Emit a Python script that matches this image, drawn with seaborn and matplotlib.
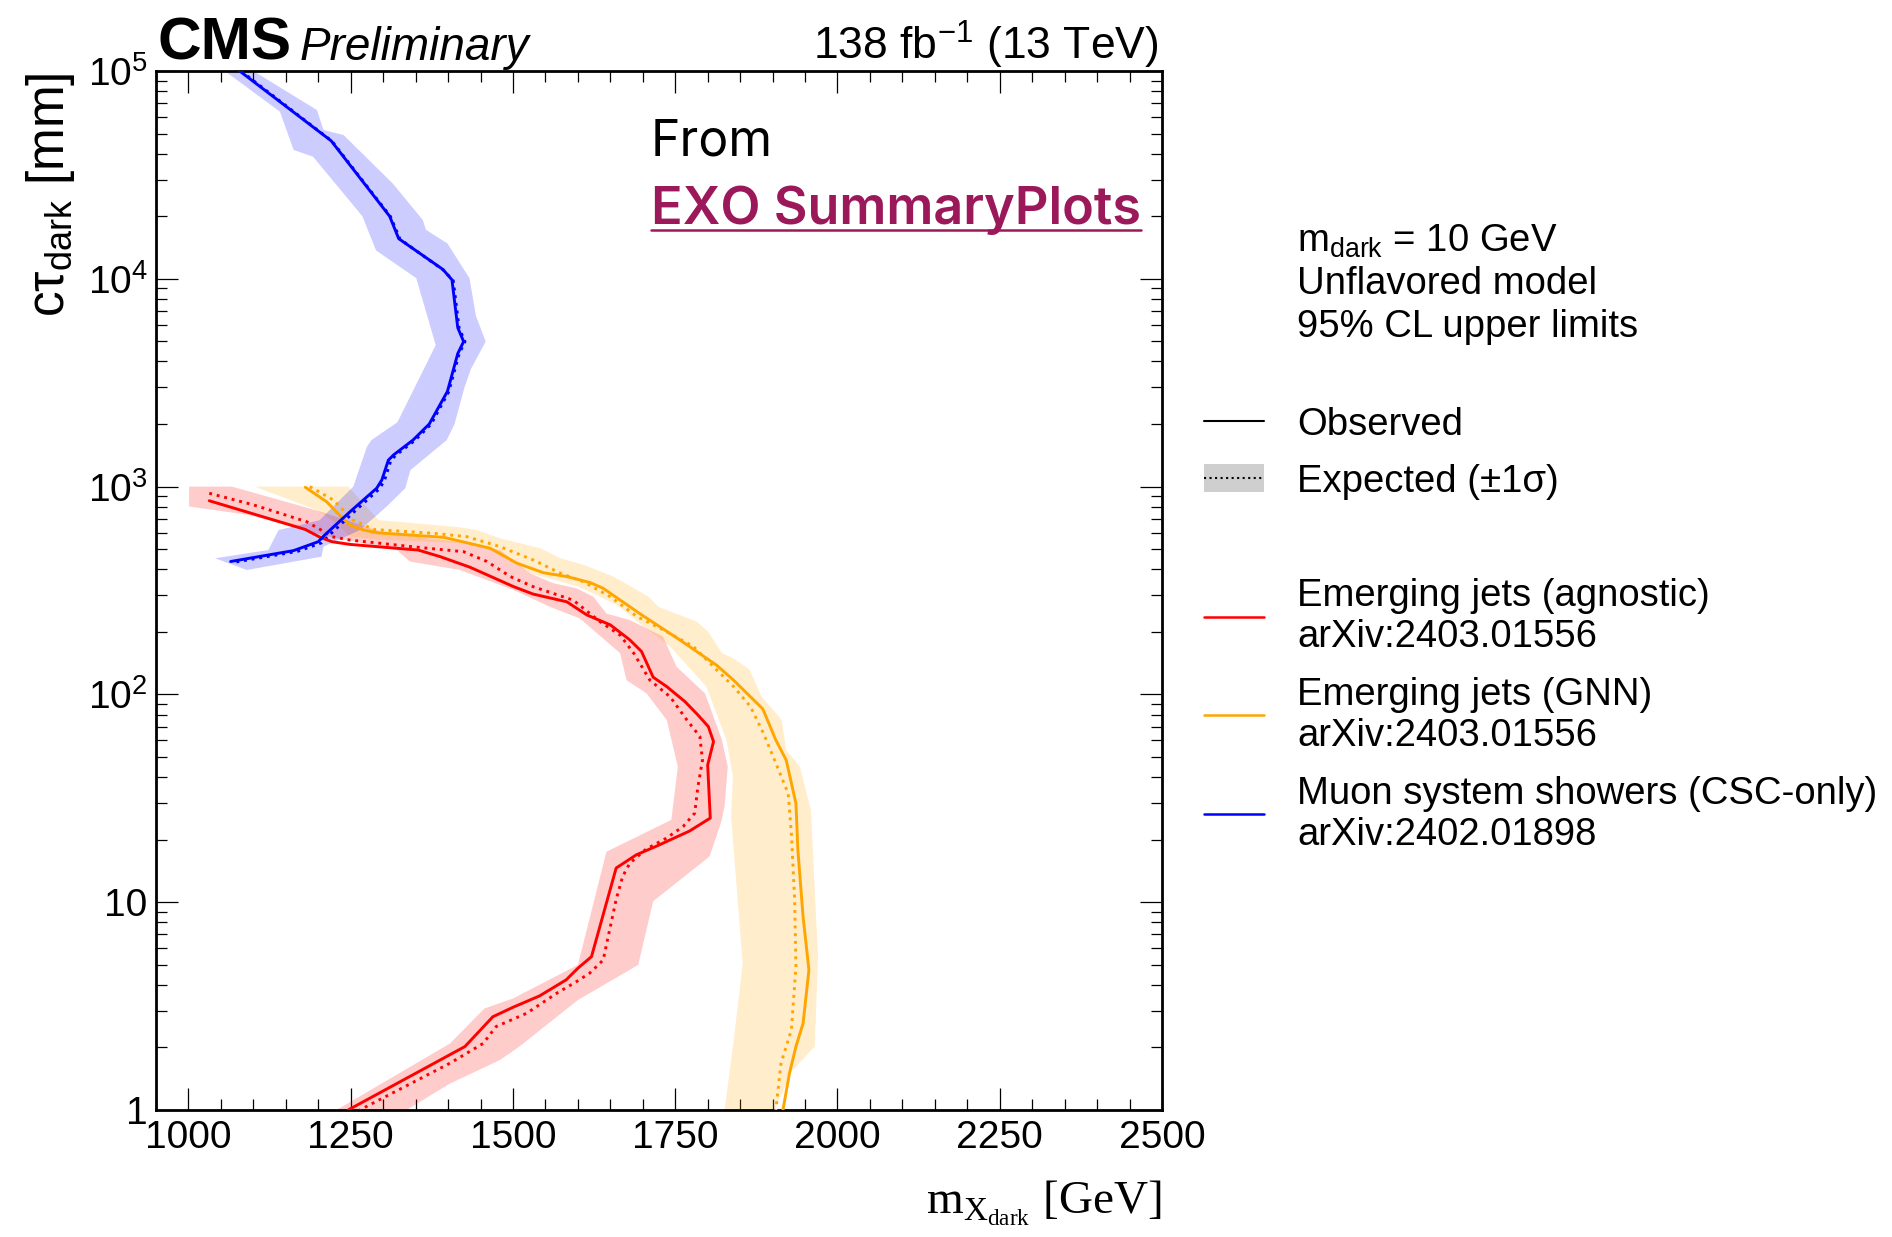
import numpy as np
import matplotlib
matplotlib.use("Agg")
import matplotlib.pyplot as plt
import seaborn as sns
from matplotlib.lines import Line2D
from matplotlib.patches import Rectangle
from matplotlib.ticker import LogLocator, MultipleLocator, NullFormatter

# ---------------- data (m_X_dark [GeV], c tau_dark [mm]) ----------------
# Muon system showers (CSC-only)
blue_obs_m = [1070, 1220, 1310, 1324, 1392, 1406, 1415, 1424, 1415, 1399, 1371, 1346, 1316, 1308,
              1298, 1290, 1249, 1210, 1200, 1162, 1065]
blue_obs_ct = [105000, 46100, 20000, 15600, 11100, 9890, 5810, 4990, 4370, 2870, 2000, 1675, 1420, 1340,
               1076, 982, 757, 585, 543, 492, 436]
blue_exp_m = [1072, 1221, 1311, 1326, 1393, 1408, 1417, 1426, 1417, 1401, 1374, 1349, 1320, 1312,
              1302, 1294, 1254, 1216, 1205, 1168, 1070]
blue_exp_ct = [105000, 46000, 20000, 15500, 11000, 9800, 5800, 4980, 4350, 2860, 2000, 1670, 1420, 1340,
               1070, 975, 750, 580, 536, 488, 432]
blue_hi_m = [1100, 1198, 1208, 1239, 1315, 1361, 1366, 1399, 1433, 1443, 1458, 1435, 1425, 1410,
             1398, 1342, 1334, 1305, 1264, 1208, 1205, 1090, 1041]
blue_hi_ct = [100000, 64900, 52000, 49200, 28700, 19200, 17200, 14800, 10070, 6620, 4990, 3670, 2980, 2000,
              1675, 1200, 982, 800, 617, 514, 460, 397, 452]
blue_lo_m = [1056, 1141, 1162, 1192, 1268, 1289, 1351, 1381, 1322, 1282, 1275, 1254, 1202, 1139, 1123, 1041]
blue_lo_ct = [100000, 63700, 41700, 38700, 20000, 13700, 10070, 4800, 2040, 1675, 1556, 1000, 689, 618, 495, 452]

# Emerging jets (agnostic)
red_obs_m = [1032, 1180, 1203, 1221, 1249, 1354, 1388, 1434, 1501, 1531, 1583, 1614, 1650, 1680, 1698,
             1716, 1737, 1765, 1785, 1801, 1809, 1800, 1804, 1772, 1721, 1690, 1659, 1621, 1600, 1582,
             1541, 1500, 1469, 1426, 1246]
red_obs_ct = [855, 622, 570, 543, 527, 495, 460, 409, 330, 304, 279, 241, 216, 183, 161,
              121, 109, 92.3, 79.6, 70.0, 59.3, 45.7, 25.4, 22.0, 18.6, 16.9, 14.6, 5.47, 4.81, 4.23,
              3.54, 3.12, 2.81, 2.02, 1.0]
red_exp_m = [1032, 1100, 1182, 1203, 1221, 1249, 1352, 1424, 1460, 1496, 1531, 1593, 1634, 1665, 1686,
             1711, 1742, 1768, 1788, 1792, 1785, 1780, 1762, 1736, 1705, 1680, 1669, 1659, 1639, 1618,
             1598, 1567, 1521, 1474, 1454, 1403, 1264]
red_exp_ct = [929, 817, 678, 622, 574, 553, 511, 486, 436, 369, 330, 284, 224, 193, 158,
              117, 97.5, 75.3, 62.7, 48.3, 36.0, 26.8, 23.1, 20.3, 18.0, 15.4, 13.3, 10.3, 5.27, 4.55,
              4.15, 3.64, 2.92, 2.52, 2.09, 1.68, 1.0]
red_hi_m = [1001, 1067, 1167, 1203, 1300, 1400, 1480, 1526, 1562, 1598, 1624, 1644, 1680, 1731, 1752,
            1796, 1809, 1822, 1831, 1826, 1821, 1803, 1716, 1693, 1600, 1510, 1480, 1403, 1336]
red_hi_ct = [1000, 1000, 817, 759, 603, 550, 495, 383, 343, 324, 295, 245, 228, 190, 136,
             101, 78.2, 60.4, 44.9, 28.8, 24.4, 16.6, 10.1, 4.99, 3.38, 2.02, 1.74, 1.34, 1.0]
red_lo_m = [1001, 1095, 1215, 1321, 1341, 1418, 1501, 1557, 1603, 1665, 1675, 1706, 1737, 1754, 1744,
            1644, 1600, 1500, 1456, 1403, 1228]
red_lo_ct = [802, 729, 575, 495, 436, 397, 318, 264, 232, 158, 117, 101, 75.3, 44.9, 24.9,
             17.5, 4.99, 3.44, 3.08, 2.09, 1.0]

# Emerging jets (GNN)
orange_obs_m = [1180, 1213, 1236, 1249, 1270, 1290, 1393, 1465, 1506, 1547, 1583, 1619, 1639, 1696,
                1757, 1814, 1840, 1885, 1905, 1921, 1936, 1939, 1947, 1956, 1947, 1936, 1926, 1916]
orange_obs_ct = [993, 845, 711, 653, 618, 600, 570, 505, 428, 385, 369, 345, 324, 244,
                 183, 138, 117, 85.1, 60.3, 48.3, 29.9, 17.8, 8.51, 4.72, 2.61, 2.02, 1.50, 1.0]
orange_exp_m = [1187, 1223, 1254, 1285, 1377, 1429, 1480, 1531, 1573, 1609, 1650, 1691, 1732, 1778,
                1814, 1840, 1866, 1886, 1903, 1924, 1929, 1934, 1936, 1929, 1913, 1905]
orange_exp_ct = [1000, 863, 690, 622, 596, 574, 514, 444, 383, 348, 295, 237, 204, 170,
                 131, 109, 87.3, 65.0, 48.3, 33.4, 21.4, 10.3, 4.90, 2.43, 1.68, 1.0]
orange_hi_m = [1246, 1293, 1418, 1444, 1480, 1542, 1573, 1609, 1655, 1709, 1724, 1783, 1801, 1822,
               1840, 1865, 1883, 1914, 1921, 1942, 1959, 1970, 1965, 1931, 1903]
orange_hi_ct = [1000, 690, 637, 618, 564, 505, 452, 420, 369, 295, 264, 224, 200, 158,
                149, 131, 97.5, 75.3, 54.0, 44.9, 27.8, 5.47, 2.02, 1.56, 1.0]
orange_lo_m = [1102, 1198, 1230, 1249, 1290, 1429, 1480, 1526, 1600, 1624, 1660, 1700, 1742, 1798,
               1829, 1839, 1836, 1854, 1839, 1826]
orange_lo_ct = [1000, 771, 661, 574, 556, 533, 479, 383, 331, 306, 269, 214, 170, 109,
                60.4, 40.2, 25.8, 5.08, 2.02, 1.0]

x_ticks = [1000, 1250, 1500, 1750, 2000, 2250, 2500]
y_ticks = [1, 10, 100, 1000, 10000, 100000]
y_tick_labels = ["1", "10", r"$\mathregular{10^{2}}$", r"$\mathregular{10^{3}}$",
                 r"$\mathregular{10^{4}}$", r"$\mathregular{10^{5}}$"]

info_lines = [r"m$_{\mathregular{dark}}$ = 10 GeV", "Unflavored model", "95% CL upper limits"]
analysis_names = ["Emerging jets (agnostic)", "Emerging jets (GNN)", "Muon system showers (CSC-only)"]
analysis_refs = ["arXiv:2403.01556", "arXiv:2403.01556", "arXiv:2402.01898"]

RED, ORANGE, BLUE = "#ff0000", "#ffa500", "#0000ff"

# ---------------- style ----------------
sns.set_style("ticks")
plt.rcParams["font.family"] = ["Liberation Sans", "DejaVu Sans"]
plt.rcParams["mathtext.fontset"] = "custom"
plt.rcParams["mathtext.rm"] = "Liberation Sans"
plt.rcParams["mathtext.it"] = "Liberation Sans:italic"
plt.rcParams["mathtext.bf"] = "Liberation Sans:bold"
plt.rcParams["mathtext.sf"] = "Liberation Serif"
for k in ["text.color", "axes.labelcolor", "xtick.color", "ytick.color", "axes.edgecolor"]:
    plt.rcParams[k] = "black"

fig = plt.figure(figsize=(18.92, 12.37), dpi=100)
ax = fig.add_axes([0.08245, 0.10267, 0.53171, 0.83993])

# bands
for hm, hc, lm, lc, col in [
    (red_hi_m, red_hi_ct, red_lo_m, red_lo_ct, RED),
    (orange_hi_m, orange_hi_ct, orange_lo_m, orange_lo_ct, ORANGE),
    (blue_hi_m, blue_hi_ct, blue_lo_m, blue_lo_ct, BLUE),
]:
    ax.fill(list(hm) + list(lm)[::-1], list(hc) + list(lc)[::-1], color=col, alpha=0.2, lw=0, zorder=1)

LW = 2.1
for m, c, col in [(red_exp_m, red_exp_ct, RED), (orange_exp_m, orange_exp_ct, ORANGE),
                  (blue_exp_m, blue_exp_ct, BLUE)]:
    sns.lineplot(x=m, y=c, sort=False, estimator=None, color=col, lw=LW, ls=":", ax=ax, zorder=3)
for m, c, col in [(red_obs_m, red_obs_ct, RED), (orange_obs_m, orange_obs_ct, ORANGE),
                  (blue_obs_m, blue_obs_ct, BLUE)]:
    sns.lineplot(x=m, y=c, sort=False, estimator=None, color=col, lw=LW, ax=ax, zorder=4)

ax.set_yscale("log")
ax.set_xlim(950, 2500)
ax.set_ylim(1, 1e5)
ax.set_xticks(x_ticks)
ax.set_xticklabels([str(v) for v in x_ticks])
ax.xaxis.set_minor_locator(MultipleLocator(50))
ax.set_yticks(y_ticks)
ax.set_yticklabels(y_tick_labels)
ax.yaxis.set_minor_locator(LogLocator(base=10, subs=np.arange(2, 10), numticks=30))
ax.yaxis.set_minor_formatter(NullFormatter())
ax.set_xlabel("")
ax.set_ylabel("")
ax.tick_params(which="both", direction="in", top=True, right=True, labelsize=28, width=0.9,
               colors="black")
ax.tick_params(which="major", length=16)
ax.tick_params(which="minor", length=8)
ax.tick_params(axis="x", pad=7)
ax.tick_params(axis="y", pad=6)
for s in ax.spines.values():
    s.set_linewidth(2.0)
    s.set_visible(True)
    s.set_color("black")

# ---------------- texts ----------------
fig.text(0.0830, 0.9515, "CMS", fontsize=43.5, fontweight="bold", ha="left", va="baseline")
fig.text(0.1581, 0.9515, "Preliminary", fontsize=33, style="italic", ha="left", va="baseline")
fig.text(0.6121, 0.9515, r"138 fb$^{\mathregular{-1}}$ (13 TeV)", fontsize=32, ha="right", va="baseline")

fig.text(0.0265, 0.9418, r"c$\mathregular{\tau}_{\mathregular{dark}}$ [mm]", rotation=90,
         ha="center", va="top", fontsize=37)
fig.text(0.6142, 0.0194, r"$\mathsf{m}_{\mathsf{X}_{\mathsf{dark}}}$ [GeV]", family="Liberation Serif",
         fontsize=34, ha="right", va="baseline")

fig.text(0.3441, 0.8856, "From", family=["Inter", "DejaVu Sans"], fontsize=36, ha="left", va="center")
exo = fig.text(0.3441, 0.8302, "EXO SummaryPlots", family=["Inter", "DejaVu Sans"], fontsize=37.6,
               fontweight="semibold", color="#9b195a", ha="left", va="center")
fig.canvas.draw()
bb = exo.get_window_extent().transformed(fig.transFigure.inverted())
fig.add_artist(Line2D([bb.x0, bb.x1], [0.8137, 0.8137], transform=fig.transFigure,
                      color="#9b195a", lw=1.8))

# info block
dy = -0.003
for t, y in zip(info_lines, [0.8078, 0.7737, 0.7386]):
    fig.text(0.6855, y + dy, t, fontsize=27.5, ha="left", va="center")

# legend handles
hx0, hx1 = 0.6364, 0.6683
fig.add_artist(Line2D([hx0, hx1], [0.6596, 0.6596], transform=fig.transFigure, color="black", lw=1.5))
fig.text(0.6855, 0.6596 + dy, "Observed", fontsize=27.5, ha="left", va="center")
fig.add_artist(Rectangle((hx0, 0.6025), hx1 - hx0, 0.0225, transform=fig.transFigure,
                         facecolor="#cfcfcf", edgecolor="none"))
fig.add_artist(Line2D([hx0, hx1], [0.6137, 0.6137], transform=fig.transFigure, color="black", lw=1.5,
                      ls=":"))
fig.text(0.6855, 0.6137 + dy, "Expected (±1σ)", fontsize=27.5, ha="left", va="center")

for name, ref, col, yl, y1, y2 in zip(analysis_names, analysis_refs, [RED, ORANGE, BLUE],
                                      [0.5015, 0.4216, 0.3416], [0.5211, 0.4411, 0.3611],
                                      [0.4879, 0.4079, 0.3280]):
    fig.add_artist(Line2D([hx0, hx1], [yl, yl], transform=fig.transFigure, color=col, lw=1.8))
    fig.text(0.6855, y1 + dy, name, fontsize=27.5, ha="left", va="center")
    fig.text(0.6855, y2 + dy, ref, fontsize=27.5, ha="left", va="center")

fig.savefig("out.png", dpi=100)
